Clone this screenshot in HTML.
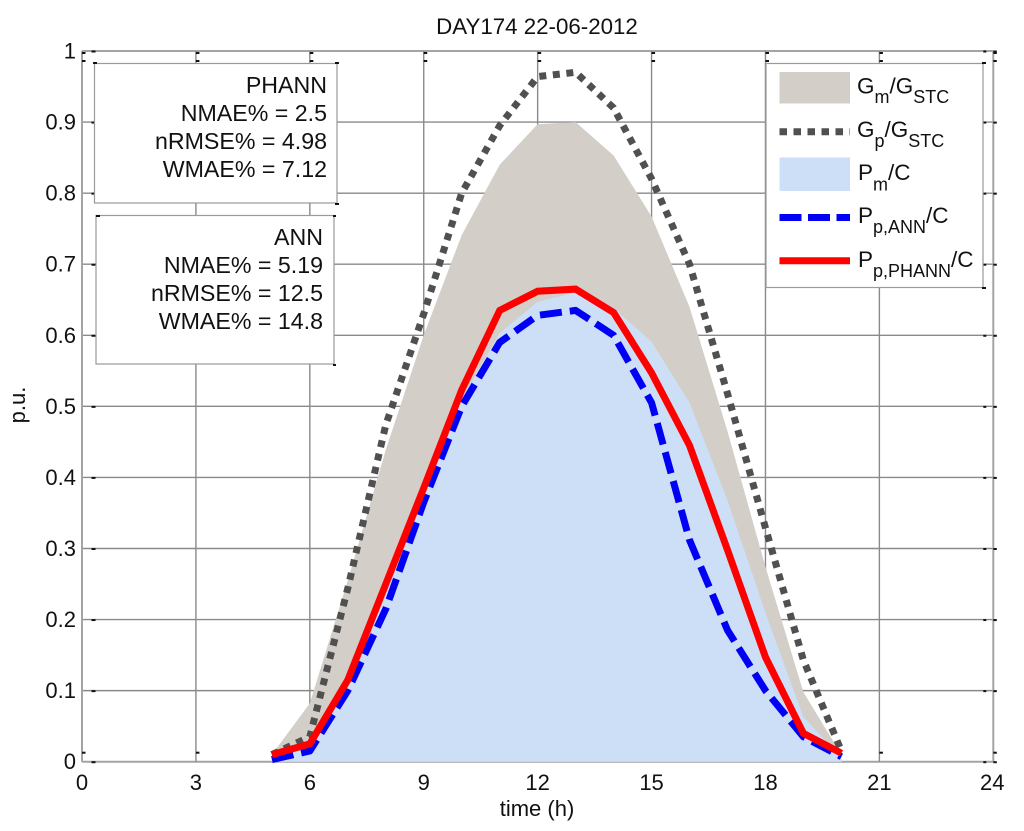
<!DOCTYPE html>
<html lang="en">
<head>
<meta charset="utf-8">
<title>DAY174 22-06-2012</title>
<style>
html,body{margin:0;padding:0;background:#fff}
svg{display:block}
text{font-family:"Liberation Sans",Arial,sans-serif;fill:#111}
.box{font-size:23.2px;text-anchor:end}
.tick{font-size:22px}
.leg{font-size:22.5px}
.leg tspan.s{font-size:18px}
</style>
</head>
<body>
<svg id="chart" width="1024" height="831" viewBox="0 0 1024 831" xmlns="http://www.w3.org/2000/svg">
  <rect x="0" y="0" width="1024" height="831" fill="#fff"/>
  <g id="grid"></g>
  <g id="ticks"></g>
  <g id="series"></g>
  <g id="labels"></g>

  <text x="537" y="34" font-size="22.3" text-anchor="middle">DAY174 22-06-2012</text>
  <text x="537" y="816" font-size="22" text-anchor="middle">time (h)</text>
  <text transform="translate(25,405) rotate(-90)" font-size="22" text-anchor="middle">p.u.</text>

  <g>
    <rect x="94.5" y="63.5" width="242.5" height="139.5" fill="#fff" stroke="#9a9a9a" stroke-width="1.2"/>
    <text class="box" x="327" y="93">PHANN</text>
    <text class="box" x="327" y="121">NMAE% = 2.5</text>
    <text class="box" x="327" y="149">nRMSE% = 4.98</text>
    <text class="box" x="327" y="177">WMAE% = 7.12</text>
    <rect x="93" y="62" width="4" height="2" fill="#111"/>
    <rect x="335" y="62" width="4" height="2" fill="#111"/>
    <rect x="335" y="203" width="4" height="2" fill="#111"/>
  </g>

  <g>
    <rect x="96" y="215.5" width="238" height="148.5" fill="#fff" stroke="#9a9a9a" stroke-width="1.2"/>
    <text class="box" x="323" y="245">ANN</text>
    <text class="box" x="323" y="273">NMAE% = 5.19</text>
    <text class="box" x="323" y="301">nRMSE% = 12.5</text>
    <text class="box" x="323" y="329">WMAE% = 14.8</text>
    <rect x="96" y="215" width="4" height="2" fill="#111"/>
    <rect x="333" y="215" width="3" height="2" fill="#111"/>
    <rect x="333" y="364" width="3" height="2" fill="#111"/>
  </g>

  <g>
    <rect x="766" y="63.5" width="217" height="224" fill="#fff" stroke="#9a9a9a" stroke-width="1.2"/>
    <rect x="779.5" y="72" width="70.5" height="31.5" fill="#d3cfc8"/>
    <line x1="779.5" y1="131.7" x2="850" y2="131.7" stroke="#505050" stroke-width="7" stroke-dasharray="7.5 6.5"/>
    <rect x="779.5" y="157.5" width="70.5" height="33.5" fill="#ccdff6"/>
    <line x1="779.5" y1="217.5" x2="850" y2="217.5" stroke="#0000f5" stroke-width="7" stroke-dasharray="22 6.5"/>
    <line x1="779.5" y1="260.7" x2="850" y2="260.7" stroke="#ff0000" stroke-width="7"/>
    <text class="leg" x="857" y="93.5">G<tspan class="s" dy="9.5">m</tspan><tspan dy="-9.5">/G</tspan><tspan class="s" dy="9.5">STC</tspan></text>
    <text class="leg" x="857" y="137">G<tspan class="s" dy="10">p</tspan><tspan dy="-10">/G</tspan><tspan class="s" dy="10">STC</tspan></text>
    <text class="leg" x="858" y="180">P<tspan class="s" dy="10.5">m</tspan><tspan dy="-10.5">/C</tspan></text>
    <text class="leg" x="858" y="223">P<tspan class="s" dy="10">p,ANN</tspan><tspan dy="-10">/C</tspan></text>
    <text class="leg" x="858" y="267">P<tspan class="s" dy="10">p,PHANN</tspan><tspan dy="-10">/C</tspan></text>
    <rect x="982" y="62" width="4" height="2" fill="#111"/>
    <rect x="982" y="287" width="4" height="2" fill="#111"/>
  </g>
</svg>
<script>
var hours = [5,6,7,8,9,10,11,12,13,14,15,16,17,18,19,20];
var gMeasured = [0.01,0.082,0.255,0.439,0.60,0.741,0.84,0.897,0.90,0.853,0.767,0.64,0.465,0.274,0.098,0.01];
var gPredicted = [0.01,0.035,0.244,0.474,0.63,0.80,0.895,0.964,0.97,0.92,0.82,0.70,0.518,0.329,0.143,0.015];
var pMeasured = [0.005,0.02,0.12,0.25,0.39,0.51,0.603,0.647,0.66,0.638,0.591,0.505,0.368,0.209,0.063,0.005];
var pAnn = [0.003,0.015,0.10,0.215,0.365,0.50,0.59,0.628,0.635,0.60,0.505,0.312,0.185,0.10,0.035,0.007];
var pPhann = [0.01,0.025,0.115,0.25,0.385,0.523,0.635,0.662,0.665,0.632,0.547,0.445,0.298,0.147,0.04,0.012];
var xTicks = [0,3,6,9,12,15,18,21,24];
var yTicks = [0,0.1,0.2,0.3,0.4,0.5,0.6,0.7,0.8,0.9,1];
var yTickLabels = ['0','0.1','0.2','0.3','0.4','0.5','0.6','0.7','0.8','0.9','1'];

var NS = 'http://www.w3.org/2000/svg';
function sx(h){ return 82 + h * (993.3 - 82) / 24; }
function sy(v){ return 761.7 - v * (761.7 - 51) / 1; }
function mk(tag, attrs, parent){
  var el = document.createElementNS(NS, tag);
  for (var k in attrs) el.setAttribute(k, attrs[k]);
  parent.appendChild(el);
  return el;
}
function pts(vals){
  return hours.map(function(h, i){ return sx(h).toFixed(1) + ',' + sy(vals[i]).toFixed(1); });
}
function areaPts(vals){
  return [sx(hours[0]).toFixed(1) + ',' + sy(0)].concat(pts(vals), [sx(hours[hours.length - 1]).toFixed(1) + ',' + sy(0)]).join(' ');
}

var grid = document.getElementById('grid');
var ticks = document.getElementById('ticks');
var series = document.getElementById('series');
var labels = document.getElementById('labels');

yTicks.forEach(function(v, i){
  var y = sy(v);
  var isEdge = (v === 0 || v === 1);
  var g = mk('line', {x1: sx(0), x2: sx(24), y1: y, y2: y, stroke: isEdge ? '#a4a4a4' : '#8a8a8a', 'stroke-width': isEdge ? 2 : 1.4}, grid);
  
  
  [[sx(0) + 9.5, 4], [sx(24) - 10, 3], [sx(24), 3.5]].forEach(function(t){
    var m = mk('rect', {x: t[0], y: y - 0.5, width: t[1], height: 2, fill: '#111'}, ticks);
    
    
  });
  var lab = mk('text', {x: 76, y: y + 7.5, 'text-anchor': 'end', 'class': 'tick'}, labels);
  lab.textContent = yTickLabels[i];
  
  
});

xTicks.forEach(function(h){
  var x = sx(h);
  var isEdge = (h === 0 || h === 24);
  var g = mk('line', {x1: x, x2: x, y1: sy(1), y2: sy(0), stroke: isEdge ? '#a4a4a4' : '#8a8a8a', 'stroke-width': isEdge ? 2 : 1.4}, grid);
  
  
  [sy(1) + 1, sy(1) + 9, sy(0) - 10].forEach(function(y){
    var m = mk('rect', {x: x, y: y, width: 3.5, height: 2, fill: '#111'}, ticks);
    
    
  });
  var lab = mk('text', {x: x + (h === 24 ? -1 : 0), y: 790, 'text-anchor': 'middle', 'class': 'tick'}, labels);
  lab.textContent = String(h);
  
  
});

var gmArea = mk('polygon', {points: areaPts(gMeasured), fill: '#d3cfc8'}, series);



var gpLine = mk('polyline', {points: pts(gPredicted).join(' '), fill: 'none', stroke: '#505050', 'stroke-width': 7, 'stroke-dasharray': '7 6.6', 'stroke-linejoin': 'miter'}, series);



var pmArea = mk('polygon', {points: areaPts(pMeasured), fill: '#ccdff6'}, series);



var annLine = mk('polyline', {points: pts(pAnn).join(' '), fill: 'none', stroke: '#0000f5', 'stroke-width': 7, 'stroke-dasharray': '22 8', 'stroke-linejoin': 'round'}, series);



var phannLine = mk('polyline', {points: pts(pPhann).join(' '), fill: 'none', stroke: '#ff0000', 'stroke-width': 7, 'stroke-linejoin': 'miter'}, series);


</script>
</body>
</html>
